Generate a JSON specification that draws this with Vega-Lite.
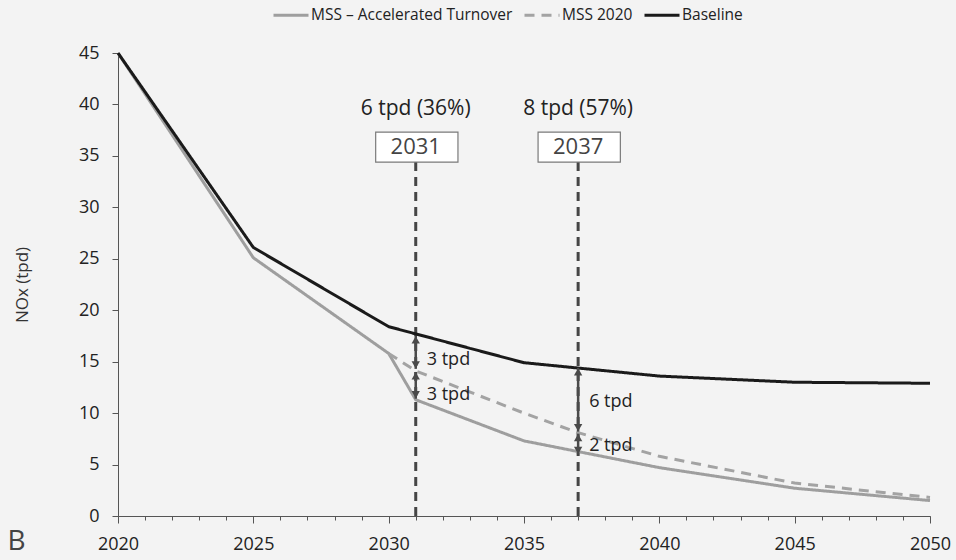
{
  "$schema": "https://vega.github.io/schema/vega-lite/v6.json",
  "width": 812,
  "height": 463,
  "autosize": {"type": "none"},
  "padding": {"left": 118, "top": 53, "right": 26, "bottom": 44},
  "background": "#f3f3f3",
  "config": {"view": {"stroke": null}, "font": "Open Sans"},
  "title": {"text": "B", "orient": "bottom", "anchor": "start", "frame": "bounds", "fontSize": 28, "fontWeight": "normal", "color": "#444444", "offset": -25, "dx": -6},
  "resolve": {"axis": {"x": "independent"}},
  "datasets": {
    "series": [
      {"year": 2020, "value": 45, "series": "MSS – Accelerated Turnover"},
      {"year": 2025, "value": 25.1, "series": "MSS – Accelerated Turnover"},
      {"year": 2030, "value": 15.8, "series": "MSS – Accelerated Turnover"},
      {"year": 2031, "value": 11.3, "series": "MSS – Accelerated Turnover"},
      {"year": 2035, "value": 7.3, "series": "MSS – Accelerated Turnover"},
      {"year": 2040, "value": 4.7, "series": "MSS – Accelerated Turnover"},
      {"year": 2045, "value": 2.7, "series": "MSS – Accelerated Turnover"},
      {"year": 2050, "value": 1.5, "series": "MSS – Accelerated Turnover"},
      {"year": 2030, "value": 15.8, "series": "MSS 2020"},
      {"year": 2031, "value": 14.1, "series": "MSS 2020"},
      {"year": 2035, "value": 10.0, "series": "MSS 2020"},
      {"year": 2037, "value": 8.1, "series": "MSS 2020"},
      {"year": 2040, "value": 5.8, "series": "MSS 2020"},
      {"year": 2045, "value": 3.2, "series": "MSS 2020"},
      {"year": 2050, "value": 1.8, "series": "MSS 2020"},
      {"year": 2020, "value": 45, "series": "Baseline"},
      {"year": 2025, "value": 26.1, "series": "Baseline"},
      {"year": 2030, "value": 18.4, "series": "Baseline"},
      {"year": 2035, "value": 14.9, "series": "Baseline"},
      {"year": 2040, "value": 13.6, "series": "Baseline"},
      {"year": 2045, "value": 13.0, "series": "Baseline"},
      {"year": 2050, "value": 12.9, "series": "Baseline"}
    ],
    "markers": [
      {"year": 2031, "y1": 0, "y2": 34.4, "bx1": 2029.52, "bx2": 2032.56, "by1": 34.4, "by2": 37.3, "by": 35.85, "label": "2031", "hy": 39.6, "header": "6 tpd (36%)"},
      {"year": 2037, "y1": 0, "y2": 34.4, "bx1": 2035.52, "bx2": 2038.56, "by1": 34.4, "by2": 37.3, "by": 35.85, "label": "2037", "hy": 39.6, "header": "8 tpd (57%)"}
    ],
    "arrows": [
      {"year": 2031, "top": 17.5, "bottom": 14.3, "text": "3 tpd", "ty": 15.2},
      {"year": 2031, "top": 14.0, "bottom": 11.4, "text": "3 tpd", "ty": 11.8},
      {"year": 2037, "top": 14.4, "bottom": 8.2, "text": "6 tpd", "ty": 11.1},
      {"year": 2037, "top": 8.0, "bottom": 6.0, "text": "2 tpd", "ty": 6.8}
    ]
  },
  "layer": [
    {
      "data": {"name": "markers"},
      "mark": {"type": "rule", "color": "#454545", "strokeWidth": 3, "strokeDash": [9, 6]},
      "encoding": {
        "x": {
          "field": "year", "type": "quantitative",
          "scale": {"domain": [2020, 2050], "nice": false},
          "axis": {
            "title": null,
            "orient": "bottom",
            "values": [2020,2021,2022,2023,2024,2025,2026,2027,2028,2029,2030,2031,2032,2033,2034,2035,2036,2037,2038,2039,2040,2041,2042,2043,2044,2045,2046,2047,2048,2049,2050],
            "labels": false,
            "grid": false,
            "domainColor": "#555555",
            "tickColor": "#555555",
            "tickSize": 4
          }
        },
        "y": {
          "field": "y1", "type": "quantitative",
          "scale": {"domain": [0, 45], "nice": false},
          "axis": {
            "title": "NOx (tpd)",
            "values": [0, 5, 10, 15, 20, 25, 30, 35, 40, 45],
            "grid": false,
            "domainColor": "#555555",
            "tickColor": "#555555",
            "tickSize": 6,
            "labelFontSize": 18,
            "labelColor": "#222222",
            "labelPadding": 13,
            "titleFontSize": 17,
            "titleFontWeight": "normal",
            "titleColor": "#333333",
            "titlePadding": 47
          }
        },
        "y2": {"field": "y2"}
      }
    },
    {
      "data": {"name": "series"},
      "mark": {"type": "line", "strokeWidth": 3},
      "encoding": {
        "x": {
          "field": "year", "type": "quantitative",
          "axis": {
            "title": null,
            "orient": "bottom",
            "values": [2020, 2025, 2030, 2035, 2040, 2045, 2050],
            "format": "d",
            "grid": false,
            "domain": false,
            "tickColor": "#555555",
            "tickSize": 7,
            "labelFontSize": 18,
            "labelColor": "#222222",
            "labelPadding": 12,
            "labelFlush": false,
            "labelOverlap": false
          }
        },
        "y": {"field": "value", "type": "quantitative"},
        "color": {
          "field": "series", "type": "nominal",
          "scale": {"domain": ["MSS – Accelerated Turnover", "MSS 2020", "Baseline"], "range": ["#9e9e9e", "#a3a3a3", "#1a1a1a"]},
          "legend": {
            "title": null,
            "orient": "none",
            "legendX": 154,
            "legendY": -57,
            "direction": "horizontal",
            "symbolType": "stroke",
            "symbolSize": 1225,
            "symbolStrokeWidth": 3,
            "labelFontSize": 15.5,
            "labelLimit": 400,
            "labelColor": "#222222",
            "labelOffset": 1,
            "columnPadding": 5
          }
        },
        "strokeDash": {
          "field": "series", "type": "nominal",
          "scale": {"domain": ["MSS – Accelerated Turnover", "MSS 2020", "Baseline"], "range": [[1, 0], [10, 7], [1, 0]]},
          "legend": {
            "title": null,
            "orient": "none",
            "legendX": 154,
            "legendY": -57,
            "direction": "horizontal",
            "symbolType": "stroke",
            "symbolSize": 1225,
            "symbolStrokeWidth": 3,
            "labelFontSize": 15.5,
            "labelLimit": 400,
            "labelColor": "#222222",
            "labelOffset": 1,
            "columnPadding": 5
          }
        },
        "order": {"field": "year", "type": "quantitative"}
      }
    },
    {
      "data": {"name": "arrows"},
      "mark": {"type": "rule", "color": "#4a4a4a", "strokeWidth": 2.5},
      "encoding": {
        "x": {"field": "year", "type": "quantitative", "axis": null},
        "y": {"field": "top", "type": "quantitative"},
        "y2": {"field": "bottom"}
      }
    },
    {
      "data": {"name": "arrows"},
      "mark": {"type": "point", "shape": "triangle-up", "filled": true, "color": "#4a4a4a", "size": 70, "opacity": 1, "yOffset": 4},
      "encoding": {
        "x": {"field": "year", "type": "quantitative", "axis": null},
        "y": {"field": "top", "type": "quantitative"}
      }
    },
    {
      "data": {"name": "arrows"},
      "mark": {"type": "point", "shape": "triangle-down", "filled": true, "color": "#4a4a4a", "size": 70, "opacity": 1, "yOffset": -4},
      "encoding": {
        "x": {"field": "year", "type": "quantitative", "axis": null},
        "y": {"field": "bottom", "type": "quantitative"}
      }
    },
    {
      "data": {"name": "arrows"},
      "mark": {"type": "text", "align": "left", "baseline": "middle", "dx": 11, "fontSize": 18, "color": "#222222"},
      "encoding": {
        "x": {"field": "year", "type": "quantitative", "axis": null},
        "y": {"field": "ty", "type": "quantitative"},
        "text": {"field": "text"}
      }
    },
    {
      "data": {"name": "markers"},
      "mark": {"type": "rect", "fill": "#ffffff", "stroke": "#7a7a7a", "strokeWidth": 1.2},
      "encoding": {
        "x": {"field": "bx1", "type": "quantitative", "axis": null},
        "x2": {"field": "bx2"},
        "y": {"field": "by1", "type": "quantitative"},
        "y2": {"field": "by2"}
      }
    },
    {
      "data": {"name": "markers"},
      "mark": {"type": "text", "align": "center", "baseline": "middle", "fontSize": 22, "color": "#444444"},
      "encoding": {
        "x": {"field": "year", "type": "quantitative", "axis": null},
        "y": {"field": "by", "type": "quantitative"},
        "text": {"field": "label"}
      }
    },
    {
      "data": {"name": "markers"},
      "mark": {"type": "text", "align": "center", "baseline": "middle", "fontSize": 21, "color": "#222222"},
      "encoding": {
        "x": {"field": "year", "type": "quantitative", "axis": null},
        "y": {"field": "hy", "type": "quantitative"},
        "text": {"field": "header"}
      }
    }
  ]
}
